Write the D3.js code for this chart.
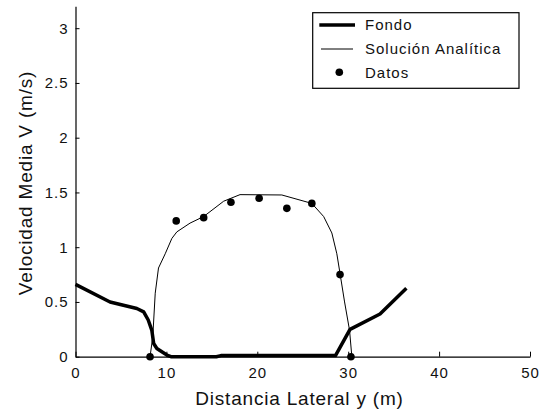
<!DOCTYPE html>
<html>
<head>
<meta charset="utf-8">
<script src="https://cdn.jsdelivr.net/npm/d3@7"></script>
<style>
  html, body { margin: 0; padding: 0; background: #fff; }
  svg { display: block; }
  text { font-family: "Liberation Sans", Arial, sans-serif; fill: #111; }
</style>
</head>
<body>
<svg id="chart" width="543" height="413"></svg>
<script>
// ---- data ----
const fondoX = [0, 3.8, 6.75, 7.5, 8.0, 8.4, 8.6, 8.95, 10.05, 10.5, 15.5, 16, 28.6, 30.2, 33.5, 36.4];
const fondoY = [0.66, 0.5, 0.44, 0.41, 0.335, 0.24, 0.12, 0.075, 0.015, 0.0, 0.0, 0.01, 0.01, 0.25, 0.39, 0.625];

const analiticaX = [8.2, 8.5, 8.77, 9.13, 9.87, 10.6, 11.15, 12.6, 14.1, 16.3, 18.1, 22.7, 26.0, 27.3, 28.2, 28.75, 29.1, 29.6, 30.15, 30.4];
const analiticaY = [0, 0.18, 0.58, 0.81, 0.94, 1.08, 1.14, 1.22, 1.28, 1.42, 1.48, 1.477, 1.40, 1.28, 1.13, 0.94, 0.76, 0.5, 0.24, 0];

const datosX = [8.2, 11.08, 14.1, 17.1, 20.2, 23.25, 26.0, 29.1, 30.3];
const datosY = [0, 1.24, 1.27, 1.41, 1.447, 1.355, 1.40, 0.75, 0];

const xTicks = [0, 10, 20, 30, 40, 50];
const yTicks = [0, 0.5, 1, 1.5, 2, 2.5, 3];
const legendLabels = ["Fondo", "Solución Analítica", "Datos"];
const xLabel = "Distancia Lateral y (m)";
const yLabel = "Velocidad Media V (m/s)";

// ---- drawing ----
const svg = d3.select("#chart");
const x = d3.scaleLinear().domain([0, 50]).range([75.5, 530]);
const y = d3.scaleLinear().domain([0, 3.2]).range([356.7, 6.3]);

const zip = (a, b) => a.map((v, i) => [v, b[i]]);
const line = d3.line().x(d => x(d[0])).y(d => y(d[1]));

// axes
const gx = svg.append("g").attr("transform", `translate(0,${y(0)})`)
  .call(d3.axisBottom(x).tickValues(xTicks).tickFormat(d3.format("d"))
        .tickSizeInner(-5).tickSizeOuter(0).tickPadding(11));
const gy = svg.append("g").attr("transform", `translate(${x(0)},0)`)
  .call(d3.axisLeft(y).tickValues(yTicks).tickFormat(d => String(d))
        .tickSizeInner(-4).tickSizeOuter(0).tickPadding(7));
[gx, gy].forEach(g => {
  g.selectAll("path.domain").attr("stroke", "#000").attr("stroke-width", 1.2);
  g.selectAll(".tick line").attr("stroke", "#000");
  g.selectAll(".tick text").attr("font-size", 15).attr("letter-spacing", "1px")
    .attr("fill", "#111").style("font-family", '"Liberation Sans", Arial, sans-serif');
});

// series
svg.append("path").datum(zip(analiticaX, analiticaY))
  .attr("d", line).attr("fill", "none").attr("stroke", "#000").attr("stroke-width", 1);
svg.append("path").datum(zip(fondoX, fondoY))
  .attr("d", line).attr("fill", "none").attr("stroke", "#000").attr("stroke-width", 3.5)
  .attr("stroke-linejoin", "round");
svg.append("g").selectAll("circle").data(zip(datosX, datosY)).join("circle")
  .attr("cx", d => x(d[0])).attr("cy", d => y(d[1])).attr("r", 3.8).attr("fill", "#000");

// axis labels
svg.append("text").attr("x", 299.5).attr("y", 405).attr("text-anchor", "middle")
  .attr("font-size", 19).attr("letter-spacing", "0.8px").text(xLabel);
svg.append("text").attr("transform", "translate(31.5,183) rotate(-90)")
  .attr("text-anchor", "middle").attr("font-size", 19).attr("letter-spacing", "0.8px").text(yLabel);

// legend
const lg = svg.append("g");
lg.append("rect").attr("x", 312.7).attr("y", 12.7).attr("width", 206.3).attr("height", 75.6)
  .attr("fill", "#fff").attr("stroke", "#000").attr("stroke-width", 1.2);
const rowY = [25, 49, 72.3];
lg.append("line").attr("x1", 319.3).attr("x2", 355).attr("y1", rowY[0]).attr("y2", rowY[0])
  .attr("stroke", "#000").attr("stroke-width", 3.5);
lg.append("line").attr("x1", 321).attr("x2", 353).attr("y1", rowY[1]).attr("y2", rowY[1])
  .attr("stroke", "#000").attr("stroke-width", 1);
lg.append("circle").attr("cx", 339.3).attr("cy", rowY[2]).attr("r", 3.8).attr("fill", "#000");
lg.selectAll("text.lab").data(legendLabels).join("text").attr("class", "lab")
  .attr("x", 365).attr("y", (d, i) => rowY[i]).attr("dy", "0.36em")
  .attr("font-size", 15).attr("letter-spacing", "1px").text(d => d);
</script>
</body>
</html>
